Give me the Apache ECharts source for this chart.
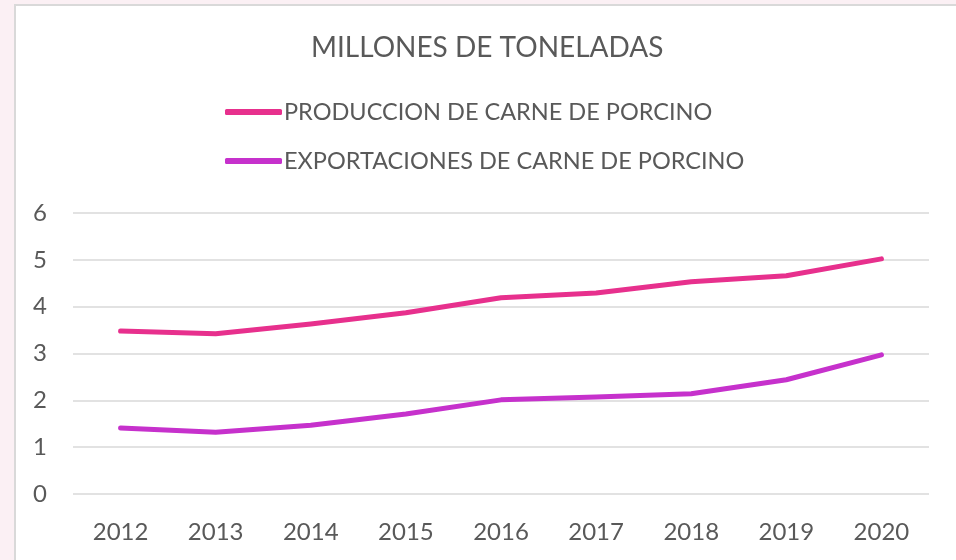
<!DOCTYPE html>
<html>
<head>
<meta charset="utf-8">
<style>
  html, body { margin: 0; padding: 0; background: #fbf0f4; }
  #chart { width: 956px; height: 560px; }
</style>
<script src="https://cdn.jsdelivr.net/npm/echarts@6/dist/echarts.min.js"></script>
</head>
<body>
<div id="chart"></div>
<script>
// datos del gráfico
var years = ["2012", "2013", "2014", "2015", "2016", "2017", "2018", "2019", "2020"];
var produccion = [3.48, 3.42, 3.63, 3.87, 4.19, 4.29, 4.53, 4.66, 5.02];
var exportaciones = [1.41, 1.32, 1.47, 1.71, 2.01, 2.07, 2.14, 2.44, 2.97];
var yTicks = [0, 1, 2, 3, 4, 5, 6];

var txt = "#595959";
var font = "Lato";

var myChart = echarts.init(document.getElementById("chart"));
myChart.setOption({
  animation: false,
  backgroundColor: "#fbf0f4",
  graphic: [
    {
      type: "rect",
      z: -10,
      shape: { x: 15, y: 5, width: 960, height: 580 },
      style: { fill: "#ffffff", stroke: "#d9d9d9", lineWidth: 2 }
    }
  ],
  title: {
    text: "MILLONES DE TONELADAS",
    left: 311,
    top: 34,
    padding: 0,
    textStyle: { color: txt, fontFamily: font, fontSize: 28, fontWeight: "normal" }
  },
  legend: {
    orient: "vertical",
    left: 220,
    top: 94,
    itemWidth: 57,
    itemHeight: 6,
    itemGap: 23,
    icon: "roundRect",
    textStyle: { color: txt, fontFamily: font, fontSize: 23.5, lineHeight: 26, padding: [0, 0, 0, -3] },
    data: ["PRODUCCION DE CARNE DE PORCINO", "EXPORTACIONES DE CARNE DE PORCINO"]
  },
  grid: { left: 73, right: 27, top: 213, bottom: 66 },
  xAxis: {
    type: "category",
    data: years,
    boundaryGap: true,
    axisLine: { show: false },
    axisTick: { show: false },
    axisLabel: { color: txt, fontFamily: font, fontSize: 24, margin: 26 }
  },
  yAxis: {
    type: "value",
    min: yTicks[0],
    max: yTicks[yTicks.length - 1],
    interval: 1,
    axisLine: { show: false },
    axisTick: { show: false },
    splitLine: { lineStyle: { color: "#d9d9d9", width: 1.5 } },
    axisLabel: { color: txt, fontFamily: font, fontSize: 24, margin: 26 }
  },
  series: [
    {
      name: "PRODUCCION DE CARNE DE PORCINO",
      type: "line",
      data: produccion,
      symbol: "none",
      color: "#e7308d",
      lineStyle: { width: 5, cap: "round", join: "round" }
    },
    {
      name: "EXPORTACIONES DE CARNE DE PORCINO",
      type: "line",
      data: exportaciones,
      symbol: "none",
      color: "#c631cc",
      lineStyle: { width: 5, cap: "round", join: "round" }
    }
  ]
});
</script>
</body>
</html>
